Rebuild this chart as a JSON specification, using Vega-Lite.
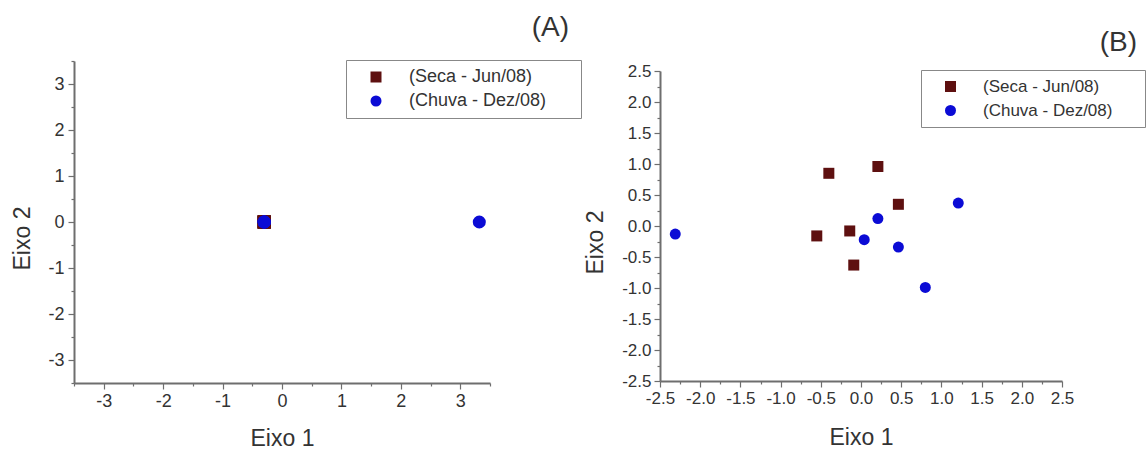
{
  "$schema": "https://vega.github.io/schema/vega-lite/v6.json",
  "padding": {"left": 11, "top": 14, "right": 0, "bottom": 0},
  "background": "white",
  "config": {
    "font": "Liberation Sans",
    "view": {"stroke": null},
    "concat": {"spacing": 170},
    "axis": {
      "grid": false,
      "domainColor": "#6e6e6e",
      "domainWidth": 2,
      "tickColor": "#6e6e6e",
      "tickWidth": 1.2,
      "labelColor": "#333",
      "labelFont": "Liberation Sans",
      "labelOverlap": false,
      "labelFlush": false,
      "titleFont": "Liberation Sans",
      "titleFontSize": 23,
      "titleFontWeight": "normal",
      "titleColor": "#333",
      "titleBaseline": "middle",
      "titleAlign": "center"
    },
    "legend": {
      "orient": "none",
      "strokeColor": "#888",
      "fillColor": "white",
      "padding": 8,
      "symbolOffset": 13,
      "labelOffset": 24,
      "labelLimit": 400,
      "labelFont": "Liberation Sans",
      "labelColor": "#333",
      "rowPadding": 6,
      "symbolSize": 121,
      "symbolStrokeWidth": 0,
      "title": null
    },
    "title": {"font": "Liberation Sans", "fontSize": 28, "fontWeight": "normal", "color": "#333", "anchor": "end", "baseline": "bottom", "frame": "group"}
  },
  "datasets": {
    "pts": [
      {"panel": "A", "serie": "(Seca - Jun/08)", "x": -0.3, "y": 0},
      {"panel": "A", "serie": "(Seca - Jun/08)", "x": -0.3, "y": 0},
      {"panel": "A", "serie": "(Seca - Jun/08)", "x": -0.3, "y": 0},
      {"panel": "A", "serie": "(Seca - Jun/08)", "x": -0.3, "y": 0},
      {"panel": "A", "serie": "(Seca - Jun/08)", "x": -0.3, "y": 0},
      {"panel": "A", "serie": "(Seca - Jun/08)", "x": -0.3, "y": 0},
      {"panel": "A", "serie": "(Chuva - Dez/08)", "x": -0.3, "y": 0},
      {"panel": "A", "serie": "(Chuva - Dez/08)", "x": -0.3, "y": 0},
      {"panel": "A", "serie": "(Chuva - Dez/08)", "x": -0.3, "y": 0},
      {"panel": "A", "serie": "(Chuva - Dez/08)", "x": -0.3, "y": 0},
      {"panel": "A", "serie": "(Chuva - Dez/08)", "x": -0.3, "y": 0},
      {"panel": "A", "serie": "(Chuva - Dez/08)", "x": 3.32, "y": 0},
      {"panel": "B", "serie": "(Seca - Jun/08)", "x": -0.4, "y": 0.85},
      {"panel": "B", "serie": "(Seca - Jun/08)", "x": 0.21, "y": 0.96},
      {"panel": "B", "serie": "(Seca - Jun/08)", "x": 0.465, "y": 0.35},
      {"panel": "B", "serie": "(Seca - Jun/08)", "x": -0.55, "y": -0.16},
      {"panel": "B", "serie": "(Seca - Jun/08)", "x": -0.14, "y": -0.08},
      {"panel": "B", "serie": "(Seca - Jun/08)", "x": -0.09, "y": -0.63},
      {"panel": "B", "serie": "(Chuva - Dez/08)", "x": -2.31, "y": -0.13},
      {"panel": "B", "serie": "(Chuva - Dez/08)", "x": 0.21, "y": 0.12},
      {"panel": "B", "serie": "(Chuva - Dez/08)", "x": 0.04, "y": -0.22},
      {"panel": "B", "serie": "(Chuva - Dez/08)", "x": 0.465, "y": -0.34},
      {"panel": "B", "serie": "(Chuva - Dez/08)", "x": 0.8, "y": -0.99},
      {"panel": "B", "serie": "(Chuva - Dez/08)", "x": 1.21, "y": 0.37}
    ]
  },
  "bounds": "flush",
  "resolve": {
    "scale": {"color": "independent", "shape": "independent"},
    "legend": {"color": "independent", "shape": "independent"}
  },
  "hconcat": [
    {
      "width": 416,
      "height": 322,
      "title": {"text": "(A)", "dx": 79, "offset": 10},
      "data": {"name": "pts"},
      "transform": [{"filter": "datum.panel == 'A'"}],
      "mark": {"type": "point", "filled": true, "size": 170, "opacity": 1},
      "encoding": {
        "x": {
          "field": "x", "type": "quantitative",
          "scale": {"domain": [-3.5, 3.5], "nice": false, "zero": false},
          "axis": {
            "title": "Eixo 1",
            "values": [-3.5, -3, -2.5, -2, -1.5, -1, -0.5, 0, 0.5, 1, 1.5, 2, 2.5, 3, 3.5],
            "labelExpr": "datum.value % 1 == 0 ? '' + datum.value : ''",
            "labelFontSize": 18,
            "labelPadding": 3,
            "titleY": 55,
            "tickSize": {"condition": {"test": "datum.value % 1 == 0", "value": 6}, "value": 3}
          }
        },
        "y": {
          "field": "y", "type": "quantitative",
          "scale": {"domain": [-3.5, 3.5], "nice": false, "zero": false},
          "axis": {
            "title": "Eixo 2",
            "values": [-3.5, -3, -2.5, -2, -1.5, -1, -0.5, 0, 0.5, 1, 1.5, 2, 2.5, 3, 3.5],
            "labelExpr": "datum.value % 1 == 0 ? '' + datum.value : ''",
            "labelFontSize": 18,
            "labelPadding": 4,
            "titleX": -52,
            "titleY": 177,
            "tickSize": {"condition": {"test": "datum.value % 1 == 0", "value": 6}, "value": 3}
          }
        },
        "color": {
          "field": "serie", "type": "nominal",
          "scale": {"domain": ["(Seca - Jun/08)", "(Chuva - Dez/08)"], "range": ["#5e1010", "#0b0bd5"]},
          "legend": {"legendX": 272, "legendY": -1, "labelFontSize": 18, "labelExpr": "datum.label + '\u2800\u2800'"}
        },
        "shape": {
          "field": "serie", "type": "nominal",
          "scale": {"domain": ["(Seca - Jun/08)", "(Chuva - Dez/08)"], "range": ["square", "circle"]},
          "legend": {"legendX": 272, "legendY": -1, "labelFontSize": 18, "labelExpr": "datum.label + '\u2800\u2800'"}
        }
      }
    },
    {
      "width": 402,
      "height": 320,
      "title": {"text": "(B)", "dx": 75, "offset": 4},
      "data": {"name": "pts"},
      "transform": [{"filter": "datum.panel == 'B'"}],
      "mark": {"type": "point", "filled": true, "size": 121, "opacity": 1},
      "encoding": {
        "x": {
          "field": "x", "type": "quantitative",
          "scale": {"domain": [-2.5, 2.5], "nice": false, "zero": false},
          "axis": {
            "title": "Eixo 1",
            "values": [-2.5, -2.25, -2, -1.75, -1.5, -1.25, -1, -0.75, -0.5, -0.25, 0, 0.25, 0.5, 0.75, 1, 1.25, 1.5, 1.75, 2, 2.25, 2.5],
            "labelExpr": "(datum.value * 2) % 1 == 0 ? (datum.value < 0 ? '-' : '') + format(abs(datum.value), '.1f') : ''",
            "labelFontSize": 17,
            "labelPadding": 3,
            "titleY": 56,
            "tickSize": {"condition": {"test": "(datum.value * 2) % 1 == 0", "value": 6}, "value": 3}
          }
        },
        "y": {
          "field": "y", "type": "quantitative",
          "scale": {"domain": [-2.5, 2.5], "range": [320, 10], "nice": false, "zero": false},
          "axis": {
            "title": "Eixo 2",
            "values": [-2.5, -2.25, -2, -1.75, -1.5, -1.25, -1, -0.75, -0.5, -0.25, 0, 0.25, 0.5, 0.75, 1, 1.25, 1.5, 1.75, 2, 2.25, 2.5],
            "labelExpr": "(datum.value * 2) % 1 == 0 ? (datum.value < 0 ? '-' : '') + format(abs(datum.value), '.1f') : ''",
            "labelFontSize": 17,
            "labelPadding": 3,
            "titleX": -65,
            "titleY": 181,
            "tickSize": {"condition": {"test": "(datum.value * 2) % 1 == 0", "value": 6}, "value": 3}
          }
        },
        "color": {
          "field": "serie", "type": "nominal",
          "scale": {"domain": ["(Seca - Jun/08)", "(Chuva - Dez/08)"], "range": ["#5e1010", "#0b0bd5"]},
          "legend": {"legendX": 261, "legendY": 9, "labelFontSize": 17, "labelExpr": "datum.label + '\u2800\u2800'"}
        },
        "shape": {
          "field": "serie", "type": "nominal",
          "scale": {"domain": ["(Seca - Jun/08)", "(Chuva - Dez/08)"], "range": ["square", "circle"]},
          "legend": {"legendX": 261, "legendY": 9, "labelFontSize": 17, "labelExpr": "datum.label + '\u2800\u2800'"}
        }
      }
    }
  ]
}
